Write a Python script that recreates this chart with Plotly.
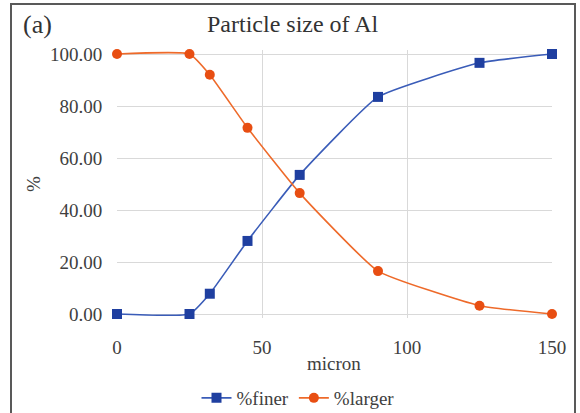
import plotly.graph_objects as go

micron = [0, 25, 32, 45, 63, 90, 125, 150]
pct_finer = [0, 0, 7.8, 28.1, 53.5, 83.5, 96.6, 100]
pct_larger = [100, 100, 92.0, 71.6, 46.5, 16.5, 3.2, 0]

FONT = "Liberation Serif"
BLUE_LINE = "#3a5cb8"
BLUE_MARK = "#1f3fa0"
ORANGE_LINE = "#ee6a2a"
ORANGE_MARK = "#e84e12"
SMOOTH = 0.4

fig = go.Figure()
fig.add_trace(go.Scatter(
    x=micron, y=pct_finer, name="%finer", mode="lines+markers",
    line=dict(color=BLUE_LINE, width=1.6, shape="spline", smoothing=SMOOTH),
    marker=dict(symbol="square", size=10, color=BLUE_MARK),
    cliponaxis=False,
))
fig.add_trace(go.Scatter(
    x=micron, y=pct_larger, name="%larger", mode="lines+markers",
    line=dict(color=ORANGE_LINE, width=1.6, shape="spline", smoothing=SMOOTH),
    marker=dict(symbol="circle", size=10, color=ORANGE_MARK),
    cliponaxis=False,
))

W, H = 580, 413
PAD = 4  # px of breathing room above 100 and below 0 so the curves are not clipped
L, R, T, B = 117, 28, 54 - PAD, 99 - PAD
pw, ph = W - L - R, H - T - B
unit = (ph - 2 * PAD) / 100.0
ypad = PAD / unit

def px(x):
    return (x - L) / pw

def py(y):
    return (H - B - y) / ph

fig.update_layout(
    width=W, height=H,
    margin=dict(l=L, r=R, t=T, b=B, autoexpand=False),
    paper_bgcolor="white", plot_bgcolor="white",
    font=dict(family=FONT, size=19, color="#404040"),
    showlegend=True,
    legend=dict(orientation="h", xref="container", yref="container",
                x=298 / W, y=1 - 398 / H, xanchor="center", yanchor="middle",
                font=dict(size=19, color="#404040"), bgcolor="rgba(0,0,0,0)",
                itemwidth=30, tracegroupgap=0),
    xaxis=dict(range=[0, 150], tickvals=[0, 50, 100, 150], showgrid=True,
               gridcolor="#d9d9d9", gridwidth=1, zeroline=False, showline=False,
               ticks="outside", ticklen=8 + PAD, tickcolor="rgba(0,0,0,0)",
               tickfont=dict(size=19, color="#404040")),
    yaxis=dict(range=[-ypad, 100 + ypad], tickvals=[0, 20, 40, 60, 80, 100], tickformat=".2f",
               showgrid=True, gridcolor="#d9d9d9", gridwidth=1, zeroline=False,
               showline=False, ticks="outside", ticklen=10, tickcolor="rgba(0,0,0,0)",
               tickfont=dict(size=19, color="#404040")),
    annotations=[
        dict(text="Particle size of Al", x=px(293), y=py(24), xref="paper", yref="paper",
             showarrow=False, font=dict(size=24, color="#333333"), xanchor="center", yanchor="middle"),
        dict(text="(a)", x=px(21), y=py(24), xref="paper", yref="paper",
             showarrow=False, font=dict(size=26, color="#333333"), xanchor="left", yanchor="middle"),
        dict(text="micron", x=px(334), y=py(363), xref="paper", yref="paper",
             showarrow=False, font=dict(size=19, color="#404040"), xanchor="center", yanchor="middle"),
        dict(text="%", x=px(33), y=py(184), xref="paper", yref="paper", textangle=-90,
             showarrow=False, font=dict(size=19, color="#404040"), xanchor="center", yanchor="middle"),
    ],
    shapes=[
        dict(type="rect", xref="paper", yref="paper", x0=px(11), x1=px(575), y0=py(420), y1=py(4),
             line=dict(color="#595959", width=2), fillcolor="rgba(0,0,0,0)", layer="below"),
    ],
)

fig.write_html("out.html")
